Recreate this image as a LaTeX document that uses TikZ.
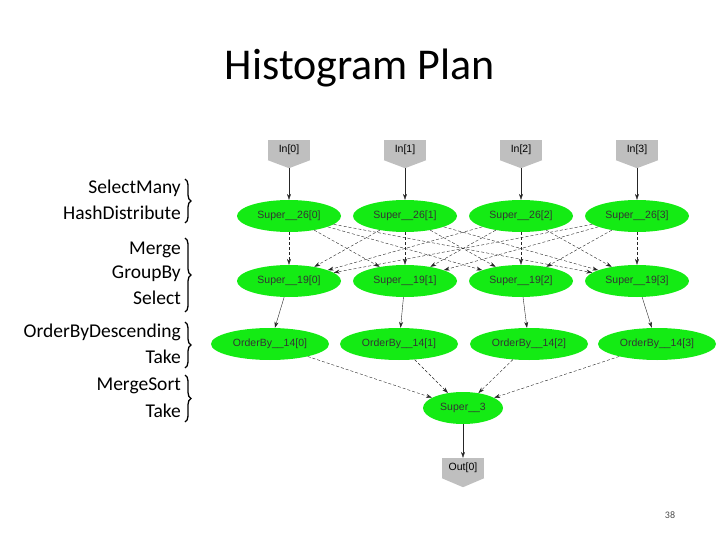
\documentclass[tikz,border=0pt]{standalone}
\usepackage{fontspec}
\setmainfont{Carlito}
\newfontfamily\arialf{Liberation Sans}
\usetikzlibrary{arrows.meta,decorations.pathreplacing,calc,shapes.geometric}
\definecolor{ngreen}{RGB}{20,235,20}
\begin{document}
\begin{tikzpicture}[x=1pt,y=-1pt,
  ell/.style={ellipse,fill=ngreen,draw=none,minimum width=#1,minimum height=32pt,inner sep=0pt,font=\arialf\fontsize{10.5}{12}\selectfont,text=black!80},
  ell/.default=104pt,
  box/.style={rectangle,fill=black!25,minimum width=42pt,minimum height=20pt,inner sep=0pt,font=\arialf\fontsize{10.5}{12}\selectfont},
  arr/.style={-{Stealth[length=6pt,width=4pt]},draw=black!85,line width=0.4pt},
  lab/.style={anchor=east,font=\fontsize{19.5}{22}\selectfont,inner sep=0pt},
  br/.style={decorate,decoration={brace,amplitude=6pt},line width=1.3pt}]
\useasboundingbox (0,0) rectangle (720,540);
\node[font=\fontsize{44}{50}\selectfont] (title) at (360,68) {Histogram Plan};
\foreach \i/\x in {0/289,1/405,2/521,3/637}{
  \node[box] (in\i) at (\x,150) {In[\i]};
  \fill[black!25] (in\i.south west) -- (in\i.south east) -- ($(in\i.south)+(0,8)$) -- cycle;
  \coordinate (inp\i) at ($(in\i.south)+(0,8)$);
  \node[ell] (s\i) at (\x,216) {Super\_\_26[\i]};
  \node[ell] (t\i) at (\x,281) {Super\_\_19[\i]};
}
\foreach \i/\x in {0/270,1/399,2/529,3/657}{
  \node[ell=118pt] (o\i) at (\x,344) {OrderBy\_\_14[\i]};
}
\node[ell=80pt] (sup3) at (463,408) {Super\_\_3};
\node[box] (out0) at (463,468) {Out[0]};
\fill[black!25] (out0.south west) -- (out0.south east) -- ($(out0.south)+(0,9)$) -- cycle;
\foreach \i in {0,1,2,3}{
  \draw[arr] (inp\i) -- (s\i);
  \foreach \j in {0,1,2,3}{ \draw[arr,densely dashed] (s\i) -- (t\j); }
  \draw[arr] (t\i) -- (o\i);
  \draw[arr,densely dashed] (o\i) -- (sup3);
}
\draw[arr] (sup3) -- (out0);
\node[lab] (l1) at (181,188) {SelectMany};
\node[lab] (l2) at (181,213) {HashDistribute};
\node[lab] (l3) at (181,250) {Merge};
\node[lab] (l4) at (181,274) {GroupBy};
\node[lab] (l5) at (181,298) {Select};
\node[lab] (l6) at (181,332) {OrderByDescending};
\node[lab] (l7) at (181,357) {Take};
\node[lab] (l8) at (181,386) {MergeSort};
\node[lab] (l9) at (181,411) {Take};
\draw[br] (185,179) -- (185,223);
\draw[br] (185,238) -- (185,312);
\draw[br] (185,322) -- (185,368);
\draw[br] (185,375) -- (185,422);
\node[font=\fontsize{10}{12}\selectfont,text=black!70] (pg) at (670,515) {38};
\end{tikzpicture}
\end{document}
